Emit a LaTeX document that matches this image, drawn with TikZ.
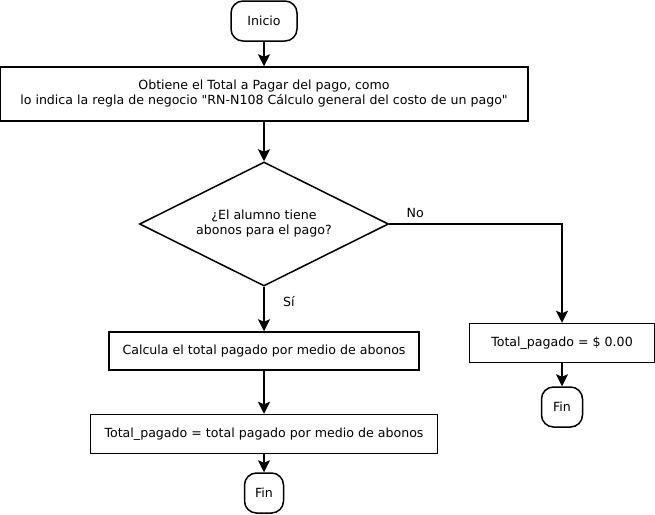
\documentclass[tikz,border=0pt]{standalone}
\usepackage{fontspec}
\setmainfont{DejaVu Sans}
\usetikzlibrary{shapes,arrows.meta,calc}

\begin{document}
\begin{tikzpicture}[auto, x=1pt, y=-1pt, line width=1.5pt, >={Stealth[length=12pt, width=12pt, inset=2.5pt]},
  font=\fontsize{12.6}{15}\selectfont,
  terminal/.style={draw, rounded corners=12pt, minimum height=40pt},
  proceso/.style={draw, rectangle, align=center},
  decision/.style={draw, diamond, aspect=2, align=center, inner sep=0pt}]

\useasboundingbox (0,0) rectangle (655,514);

\node at (264, 21) [terminal, minimum width=66pt] (inicio) {Inicio};
\node at (264, 94) [proceso, minimum width=528pt, minimum height=54pt] (obtiene) {Obtiene el Total a Pagar del pago, como\\lo indica la regla de negocio \textquotedbl RN-N108 Cálculo general del costo de un pago\textquotedbl};
\node at (264, 224) [decision, minimum width=249pt, minimum height=124pt] (pregunta) {¿El alumno tiene\\abonos para el pago?};
\node at (264, 351) [proceso, minimum width=310pt, minimum height=38pt] (calcula) {Calcula el total pagado por medio de abonos};
\node at (264, 434) [proceso, minimum width=347pt, minimum height=39pt] (asigna) {Total\_pagado = total pagado por medio de abonos};
\node at (264, 493) [terminal, minimum width=39pt] (finsi) {Fin};
\node at (562, 343) [proceso, minimum width=185pt, minimum height=39pt] (cero) {Total\_pagado = \$ 0.00};
\node at (562, 407) [terminal, minimum width=41pt] (finno) {Fin};

\draw [->] (inicio) to (obtiene);
\draw [->] (obtiene) to (pregunta);
\draw [->] (pregunta) to node[pos=0.33, right, xshift=15pt] {Sí} (calcula);
\draw [->] (calcula) to (asigna);
\draw [->] (asigna) to (finsi);
\draw [->] (pregunta.east) -| node[pos=0.075, above, yshift=2pt] {No} (cero.north);
\draw [->] (cero) to (finno);
\end{tikzpicture}
\end{document}
